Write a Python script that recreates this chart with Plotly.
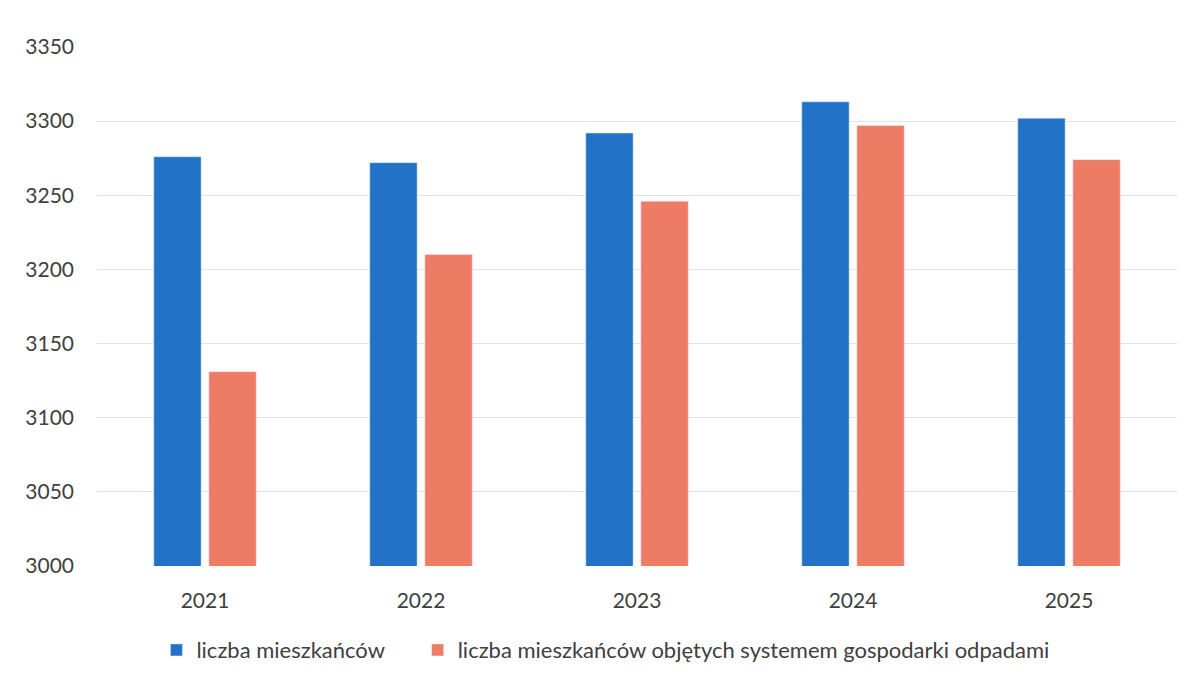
import plotly.graph_objects as go

# Data
years = ["2021", "2022", "2023", "2024", "2025"]
residents = [3276, 3272, 3292, 3313, 3302]
residents_in_system = [3131, 3210, 3246, 3297, 3274]

fig = go.Figure()

# trailing non-breaking spaces widen the gap between the two legend entries
fig.add_trace(go.Bar(x=years, y=residents, name="liczba mieszkańców" + "\u00a0" * 5,
                     marker=dict(color="#2272c8")))
fig.add_trace(go.Bar(x=years, y=residents_in_system,
                     name="liczba mieszkańców objętych systemem gospodarki odpadami",
                     marker=dict(color="#ee7b63")))

# page body has an 8px margin, so the figure is a bit smaller than the window
fig.update_layout(
    width=1187, height=670,
    margin=dict(l=89, r=18, t=39, b=112, autoexpand=False),
    paper_bgcolor="white", plot_bgcolor="white",
    font=dict(family="Lato, Open Sans, sans-serif", color="#404040", size=21),
    barmode="group", bargap=0.49, bargroupgap=0.14,
    showlegend=True,
    legend=dict(orientation="h", x=0.055, xanchor="left", y=-0.162, yanchor="middle",
                font=dict(size=22, color="#404040"), itemwidth=30,
                traceorder="normal"),
)

fig.update_xaxes(showgrid=False, showline=False, ticks="", tickfont=dict(size=21),
                 ticklabelstandoff=20)
fig.update_yaxes(range=[3000, 3350], dtick=50, showgrid=True, gridcolor="#e3e3e3",
                 gridwidth=1, zeroline=False, showline=False, ticks="",
                 ticklabelstandoff=22, tickfont=dict(size=21))

fig.write_html("out.html")
